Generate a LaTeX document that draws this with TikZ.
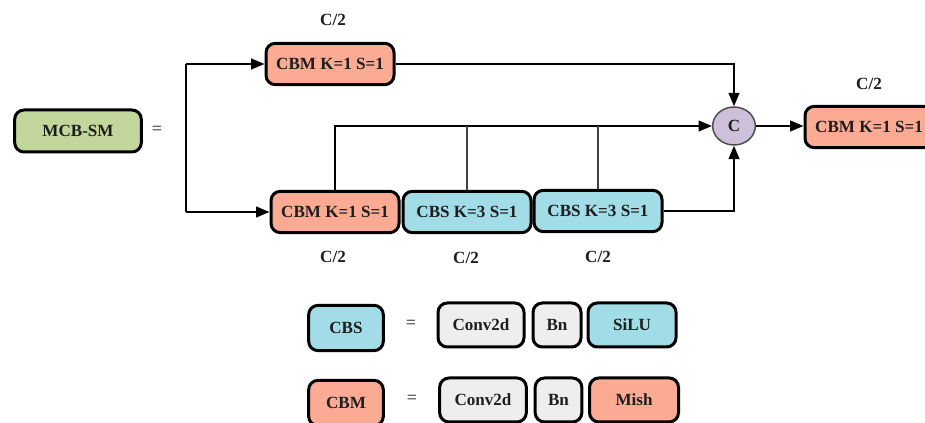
\documentclass[tikz,border=0pt]{standalone}
\usepackage{fontspec}
\setmainfont{Liberation Serif}
\usetikzlibrary{arrows.meta,shapes.geometric}
\definecolor{cbmsalmon}{HTML}{FBAB94}
\definecolor{cbsblue}{HTML}{A2DCE6}
\definecolor{mcbgreen}{HTML}{C3D69B}
\definecolor{catlilac}{HTML}{CCC0DA}
\definecolor{opgray}{HTML}{EEEEEE}
\definecolor{inkdark}{HTML}{1E1E1E}
\begin{document}
\begin{tikzpicture}[x=0.75pt,y=-0.75pt,
  txt/.style={text=inkdark, font=\bfseries\fontsize{12.8}{14}\selectfont},
  blk/.style={txt, draw=black, line width=2.25pt, rounded corners=7pt,
    inner sep=0pt, minimum height=31pt},
  cbm/.style={blk, fill=cbmsalmon, minimum width=96pt},
  cbs/.style={blk, fill=cbsblue, minimum width=96pt},
  opbox/.style={blk, fill=opgray, minimum height=33pt},
  lab/.style={txt},
  eqsign/.style={text=inkdark, font=\fontsize{13.5}{14}\selectfont},
  flow/.style={line width=1.5pt, draw=black, -{Triangle[length=10pt,width=8pt]}},
  wire/.style={line width=1.5pt, draw=black},
  tap/.style={line width=1pt, draw=black!75}
]
\clip (0,0) rectangle (925,423);
\fill[white] (0,0) rectangle (925,423);

% module symbol
\node[blk, fill=mcbgreen, minimum width=95pt, minimum height=31.5pt] (mcb) at (78,131) {MCB-SM};
\node[eqsign] (eq1) at (157,130) {=};

% main path
\node[cbm] (top) at (330,64) {CBM K=1 S=1};
\node[cbm] (b1) at (335,212) {CBM K=1 S=1};
\node[cbs] (b2) at (467,212) {CBS K=3 S=1};
\node[cbs] (b3) at (598,211) {CBS K=3 S=1};
\node[ellipse, draw=black!70, line width=1.1pt, fill=catlilac, txt,
      minimum width=32pt, minimum height=28.5pt, inner sep=0pt] (cat) at (734,126) {C};
\node[cbm] (out) at (869,127) {CBM K=1 S=1};

% channel labels
\node[lab] (ltop) at (333,20) {C/2};
\node[lab] (lout) at (869,84) {C/2};
\node[lab] (lb1) at (333,257) {C/2};
\node[lab] (lb2) at (466,258) {C/2};
\node[lab] (lb3) at (598,257) {C/2};

% split of the input
\coordinate (sT) at (186,64);
\coordinate (sB) at (186,212);
\draw[wire] (sT) -- (sB);
\draw[flow] (sT) -- (top);
\draw[flow] (sB) -- (b1);

% connections into the concatenation
\draw[flow] (top.east) -| (cat.north);
\draw[flow] (b1.north) |- (cat.west);
\draw[tap] (b2.north) -- (b2.north |- cat.west);
\draw[tap] (b3.north) -- (b3.north |- cat.west);
\draw[flow] (b3.east) -| (cat.south);
\draw[flow] (cat.east) -- (cat.east -| out.west);

% legend: CBS
\node[blk, fill=cbsblue, minimum width=56pt, minimum height=34pt] (lcbs) at (346,328) {CBS};
\node[eqsign] (eq2) at (411,324) {=};
\node[opbox, minimum width=64.5pt] (conv1) at (481,325) {Conv2d};
\node[opbox, minimum width=36pt] (bn1) at (557,325) {Bn};
\node[opbox, fill=cbsblue, minimum width=66pt] (silu) at (632,325) {SiLU};

% legend: CBM
\node[blk, fill=cbmsalmon, minimum width=56pt, minimum height=34pt] (lcbm) at (346,403) {CBM};
\node[eqsign] (eq3) at (412,399) {=};
\node[opbox, minimum width=65pt] (conv2) at (483,400) {Conv2d};
\node[opbox, minimum width=35pt] (bn2) at (558.5,400) {Bn};
\node[opbox, fill=cbmsalmon, minimum width=66.75pt] (mish) at (634,400) {Mish};
\end{tikzpicture}
\end{document}
